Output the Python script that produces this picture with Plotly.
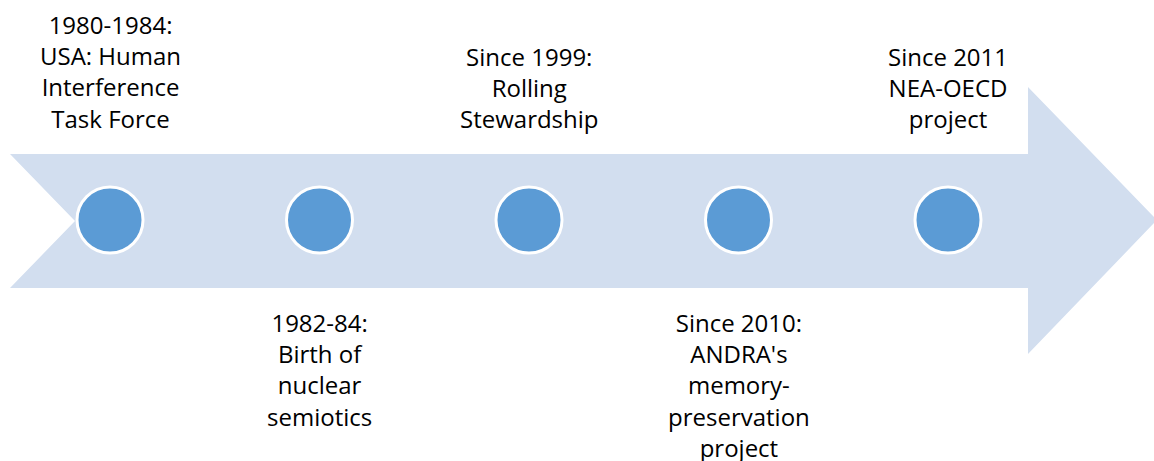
import plotly.graph_objects as go

# Timeline data
positions = [0, 1, 2, 3, 4]
labels = [
    "1980-1984:<br>USA: Human<br>Interference<br>Task Force",
    "1982-84:<br>Birth of<br>nuclear<br>semiotics",
    "Since 1999:<br>Rolling<br>Stewardship",
    "Since 2010:<br>ANDRA's<br>memory-<br>preservation<br>project",
    "Since 2011<br>NEA-OECD<br>project",
]
sides = ["top", "bottom", "top", "bottom", "top"]

W, H = 1154, 461
ARROW_COLOR = "#D2DEEF"
DOT_COLOR = "#5B9BD5"
FONT = "Open Sans"

# pixel layout helpers (style only)
x0_px, step_px = 110, 209.5
cy_px = 220


def px(x):
    return x / W


def py(y):
    return 1 - y / H


arrow_pts = [(10, 154), (1028, 154), (1028, 87), (1157, 220), (1028, 354),
             (1028, 288), (10, 288), (75, 221)]
path = "M " + " L ".join(f"{px(a):.5f},{py(b):.5f}" for a, b in arrow_pts) + " Z"

fig = go.Figure()
fig.add_trace(go.Scatter(
    x=positions, y=[0] * len(positions), mode="markers",
    marker=dict(size=66, color=DOT_COLOR, line=dict(color="white", width=3)),
    hoverinfo="skip", showlegend=False,
))

annotations = []
for pos, lab, side in zip(positions, labels, sides):
    if side == "top":
        annotations.append(dict(x=pos, y=220 - 137, xref="x", yref="y", text=lab,
                                showarrow=False, yanchor="bottom", xanchor="center",
                                align="center", font=dict(family=FONT, size=24, color="#000000")))
    else:
        annotations.append(dict(x=pos, y=220 - 304, xref="x", yref="y", text=lab,
                                showarrow=False, yanchor="top", xanchor="center",
                                align="center", font=dict(family=FONT, size=24, color="#000000")))

fig.update_layout(
    width=W, height=H,
    margin=dict(l=0, r=0, t=0, b=0),
    paper_bgcolor="white", plot_bgcolor="white",
    xaxis=dict(range=[-x0_px / step_px, (W - x0_px) / step_px], visible=False, fixedrange=True),
    yaxis=dict(range=[cy_px - H, cy_px], visible=False, fixedrange=True),
    shapes=[dict(type="path", path=path, xref="paper", yref="paper",
                 fillcolor=ARROW_COLOR, line=dict(width=0), layer="below")],
    annotations=annotations,
)

fig.write_html("out.html", config={"displayModeBar": False},
               post_script="document.body.style.margin='0px';document.body.style.overflow='hidden';")
